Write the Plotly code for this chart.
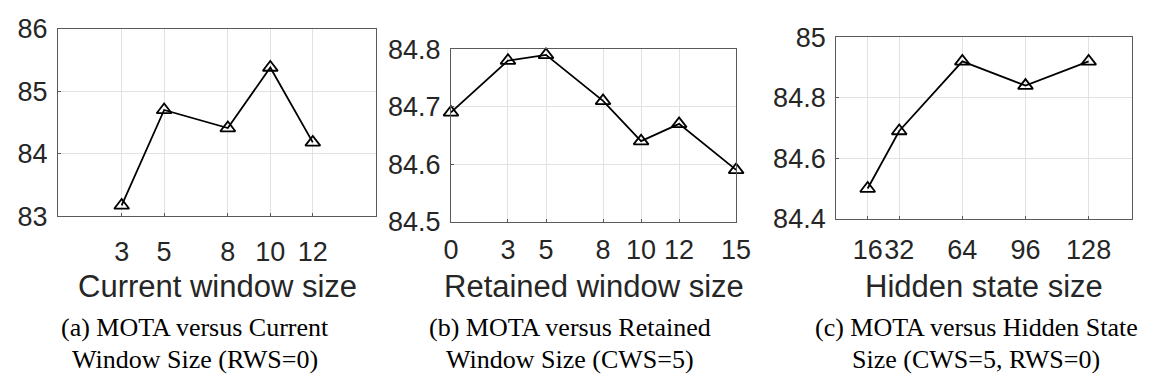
import plotly.graph_objects as go

# Panel (a): MOTA vs current window size
cws_sizes = [3, 5, 8, 10, 12]
cws_mota = [83.17, 84.70, 84.41, 85.38, 84.18]

# Panel (b): MOTA vs retained window size
rws_sizes = [0, 3, 5, 8, 10, 12, 15]
rws_mota = [84.69, 84.78, 84.79, 84.71, 84.64, 84.67, 84.59]

# Panel (c): MOTA vs hidden state size
hidden_sizes = [16, 32, 64, 96, 128]
hidden_mota = [84.50, 84.69, 84.92, 84.84, 84.92]

a_yticks = [83, 84, 85, 86]
b_yticks = [84.5, 84.6, 84.7, 84.8]
c_yticks = [84.4, 84.6, 84.8, 85.0]
c_ytick_text = ["84.4", "84.6", "84.8", "85"]

x_titles = ["Current window size", "Retained window size", "Hidden state size"]
captions = [
    ("(a) MOTA versus Current", "Window Size (RWS=0)"),
    ("(b) MOTA versus Retained", "Window Size (CWS=5)"),
    ("(c) MOTA versus Hidden State", "Size (CWS=5, RWS=0)"),
]

W, H = 1149, 386
TXT = "#262626"
FRAME = "#5a5a5a"
GRID = "#e2e2e2"
SANS = "Liberation Sans, Arial, sans-serif"
SERIF = "Liberation Serif, Times New Roman, serif"


def px_x(p):
    return p / W


def px_y(p):
    return 1 - p / H


# plot-area boxes in pixels: (left, right, top, bottom)
boxes = [(51, 376, 15, 218), (452, 743, 37, 224), (845, 1147, 24, 221)]
x_ranges = [[0, 15], [0, 15], [0, 150]]
y_ranges = [[83, 86], [84.5, 84.8], [84.4, 85.0]]
x_standoffs = [12, 4, 7]

series = [
    (cws_sizes, cws_mota, a_yticks, None),
    (rws_sizes, rws_mota, b_yticks, None),
    (hidden_sizes, hidden_mota, c_yticks, c_ytick_text),
]

fig = go.Figure()
layout = dict(
    width=W,
    height=H,
    margin=dict(l=0, r=0, t=0, b=0),
    paper_bgcolor="white",
    plot_bgcolor="white",
    showlegend=False,
    annotations=[],
)

for i, ((xs, ys, yt, ytt), box) in enumerate(zip(series, boxes)):
    n = "" if i == 0 else str(i + 1)
    fig.add_trace(
        go.Scatter(
            x=xs,
            y=ys,
            mode="lines+markers",
            line=dict(color="black", width=1.8),
            marker=dict(
                symbol="triangle-up-open",
                size=13,
                color="black",
                line=dict(color="black", width=1.8),
            ),
            xaxis="x" + n,
            yaxis="y" + n,
            cliponaxis=False,
        )
    )
    l, r, t, b = box
    layout["xaxis" + n] = dict(
        domain=[px_x(l), px_x(r)],
        anchor="y" + n,
        range=x_ranges[i],
        tickmode="array",
        tickvals=xs,
        ticktext=[str(v) for v in xs],
        tickangle=0,
        showgrid=True,
        gridcolor=GRID,
        gridwidth=1,
        zeroline=False,
        showline=True,
        linecolor=FRAME,
        linewidth=1,
        mirror=True,
        ticks="inside",
        ticklen=3,
        tickcolor=FRAME,
        tickfont=dict(family=SANS, size=27, color=TXT),
        ticklabelstandoff=x_standoffs[i],
        fixedrange=True,
    )
    layout["yaxis" + n] = dict(
        domain=[px_y(b), px_y(t)],
        anchor="x" + n,
        range=y_ranges[i],
        tickmode="array",
        tickvals=yt,
        ticktext=ytt if ytt else [f"{v:g}" for v in yt],
        showgrid=True,
        gridcolor=GRID,
        gridwidth=1,
        zeroline=False,
        showline=True,
        linecolor=FRAME,
        linewidth=1,
        mirror=True,
        ticks="inside",
        ticklen=3,
        tickcolor=FRAME,
        tickfont=dict(family=SANS, size=27, color=TXT),
        ticklabelstandoff=4,
        fixedrange=True,
    )
    # axis title centred under the plot area
    layout["annotations"].append(
        dict(
            text=x_titles[i],
            x=px_x((l + r) / 2),
            y=px_y(294),
            xref="paper",
            yref="paper",
            xanchor="center",
            yanchor="middle",
            showarrow=False,
            font=dict(family=SANS, size=31, color=TXT),
        )
    )

caption_centers = [191, 573, 988]
for (line1, line2), cx in zip(captions, caption_centers):
    for text, cy in ((line1, 339), (line2, 373)):
        layout["annotations"].append(
            dict(
                text=text,
                x=px_x(cx),
                y=px_y(cy),
                xref="paper",
                yref="paper",
                xanchor="center",
                yanchor="middle",
                showarrow=False,
                font=dict(family=SERIF, size=26, color="black"),
            )
        )

fig.update_layout(**layout)
fig.write_html("out.html")
